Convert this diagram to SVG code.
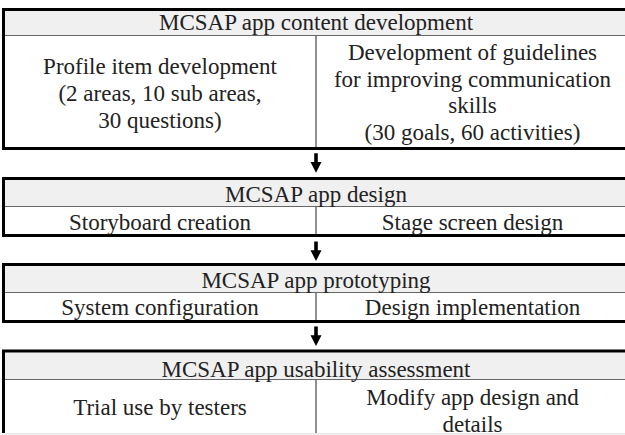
<svg xmlns="http://www.w3.org/2000/svg" width="625" height="435" viewBox="0 0 625 435">
<style>
.hdr{fill:#f0f0f0;stroke:none}
.hl{stroke:#666;stroke-width:1;fill:none}
.dv{stroke:#222;stroke-width:1;fill:none}
.bd{stroke:#000;stroke-width:3;fill:none}
.t{font-family:'Liberation Serif','Times New Roman',serif;font-size:23px;fill:#222;text-anchor:middle}
</style>
<defs>
<path id="arrow" d="M-1.8,0 H1.8 V8.8 H5.5 L0,19.5 L-5.5,8.8 H-1.8 Z" fill="#000"/>
</defs>
<rect width="625" height="435" fill="#fff"/>
<g id="box1">
<rect class="hdr" x="5" y="11" width="625" height="24.5"/>
<line class="hl" x1="5" y1="35.5" x2="625" y2="35.5"/>
<line class="dv" x1="316" y1="36" x2="316" y2="147"/>
<path class="bd" d="M630,9.5 H3.5 V148.5 H630"/>
<g class="t">
<text x="316" y="30">MCSAP app content development</text>
<text x="160" y="74">Profile item development</text>
<text x="160" y="101">(2 areas, 10 sub areas,</text>
<text x="160" y="128">30 questions)</text>
<text x="472.5" y="60">Development of guidelines</text>
<text x="472.5" y="86.7">for improving communication</text>
<text x="472.5" y="113.3">skills</text>
<text x="472.5" y="140">(30 goals, 60 activities)</text>
</g>
</g>
<g id="box2">
<rect class="hdr" x="5" y="180" width="625" height="26.5"/>
<line class="hl" x1="5" y1="206.5" x2="625" y2="206.5"/>
<line class="dv" x1="316" y1="207" x2="316" y2="234"/>
<path class="bd" d="M630,178.5 H3.5 V235.5 H630"/>
<g class="t">
<text x="316" y="201.5">MCSAP app design</text>
<text x="160" y="230">Storyboard creation</text>
<text x="472.5" y="230">Stage screen design</text>
</g>
</g>
<g id="box3">
<rect class="hdr" x="5" y="266" width="625" height="26.5"/>
<line class="hl" x1="5" y1="292.5" x2="625" y2="292.5"/>
<line class="dv" x1="316" y1="293" x2="316" y2="320"/>
<path class="bd" d="M630,264.5 H3.5 V321.5 H630"/>
<g class="t">
<text x="316" y="288">MCSAP app prototyping</text>
<text x="160" y="315">System configuration</text>
<text x="472.5" y="315">Design implementation</text>
</g>
</g>
<g id="box4">
<rect class="hdr" x="5" y="352.5" width="625" height="27"/>
<line class="hl" x1="5" y1="379.5" x2="625" y2="379.5"/>
<line class="dv" x1="316" y1="380" x2="316" y2="433"/>
<path class="bd" d="M630,351 H3.5 V433"/>
<line x1="5" y1="433.8" x2="625" y2="433.8" stroke="#ddd" stroke-width="1"/>
<g class="t">
<text x="316" y="376.5">MCSAP app usability assessment</text>
<text x="160" y="415">Trial use by testers</text>
<text x="472.5" y="405">Modify app design and</text>
<text x="472.5" y="431.5">details</text>
</g>
</g>
<g id="connectors">
<use href="#arrow" x="316" y="153.3"/>
<use href="#arrow" x="316" y="241.5"/>
<use href="#arrow" x="316" y="326.5"/>
</g>
</svg>
